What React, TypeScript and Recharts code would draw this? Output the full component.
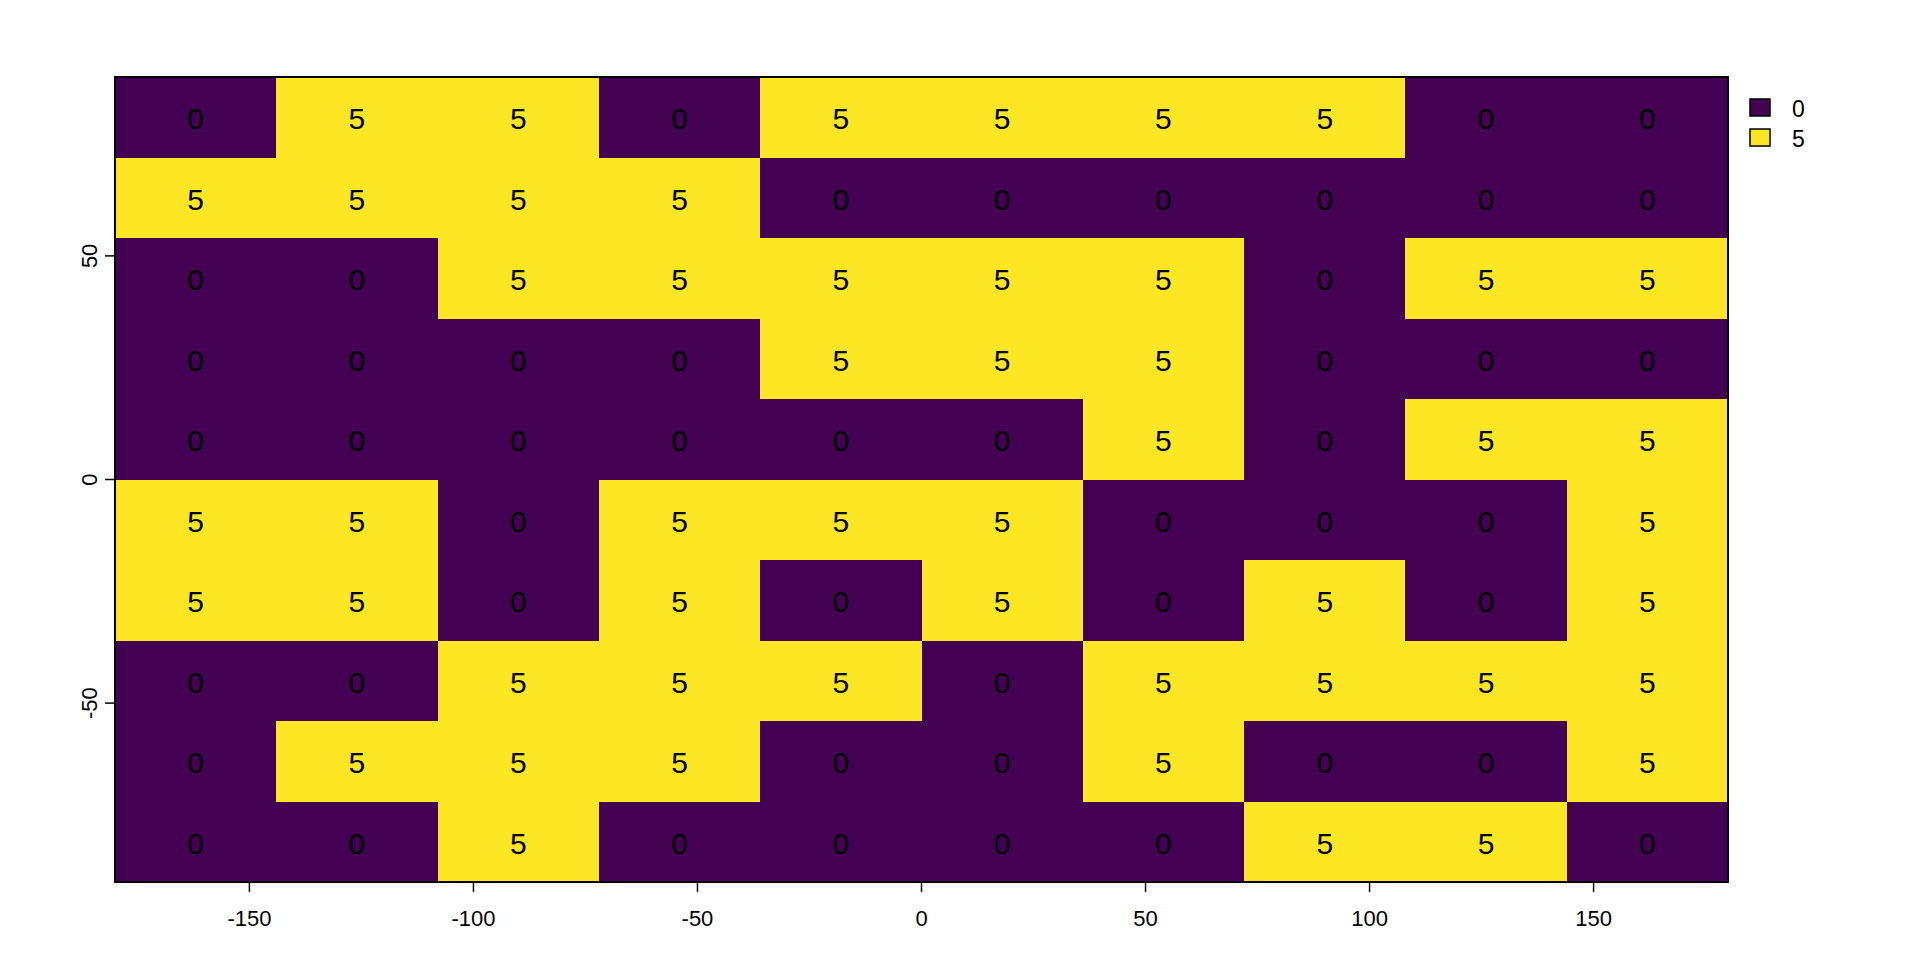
import { ReferenceArea, Scatter, ScatterChart, XAxis, YAxis } from 'recharts';

// cell edges (longitude / latitude)
const lonEdges = [-180, -144, -108, -72, -36, 0, 36, 72, 108, 144, 180];
const latEdges = [90, 72, 54, 36, 18, 0, -18, -36, -54, -72, -90];

// raster values, top row first
const gridValues = [
  [0, 5, 5, 0, 5, 5, 5, 5, 0, 0],
  [5, 5, 5, 5, 0, 0, 0, 0, 0, 0],
  [0, 0, 5, 5, 5, 5, 5, 0, 5, 5],
  [0, 0, 0, 0, 5, 5, 5, 0, 0, 0],
  [0, 0, 0, 0, 0, 0, 5, 0, 5, 5],
  [5, 5, 0, 5, 5, 5, 0, 0, 0, 5],
  [5, 5, 0, 5, 0, 5, 0, 5, 0, 5],
  [0, 0, 5, 5, 5, 0, 5, 5, 5, 5],
  [0, 5, 5, 5, 0, 0, 5, 0, 0, 5],
  [0, 0, 5, 0, 0, 0, 0, 5, 5, 0],
];

const xTicks = [-150, -100, -50, 0, 50, 100, 150];
const yTicks = [-50, 0, 50];
const legendValues = [0, 5];
const palette: Record<number, string> = { 0: '#440154', 5: '#FDE725' };

const cells = gridValues.flatMap((row, r) =>
  row.map((value, c) => ({
    x1: lonEdges[c],
    x2: lonEdges[c + 1],
    y1: latEdges[r + 1],
    y2: latEdges[r],
    x: (lonEdges[c] + lonEdges[c + 1]) / 2,
    y: (latEdges[r] + latEdges[r + 1]) / 2,
    value,
  }))
);

const FONT = 'Liberation Sans, Arial, sans-serif';

const CellLabel = (props: any) => (
  <text
    x={props.cx}
    y={props.cy}
    dy={12}
    textAnchor="middle"
    fontSize={30}
    fontFamily={FONT}
    fill="#000"
  >
    {props.payload.value}
  </text>
);

const YTick = (props: any) => (
  <text
    transform={`translate(${props.x - 6},${props.y}) rotate(-90)`}
    textAnchor="middle"
    fontSize={22}
    fontFamily={FONT}
    fill="#000"
  >
    {props.payload.value}
  </text>
);

const App = () => {
  return (
    <div style={{ position: 'absolute', left: 0, top: 0, width: 1920, height: 960, background: '#fff' }}>
      <ScatterChart width={1920} height={960} margin={{ top: 77, right: 192, left: 55, bottom: 28 }}>
        <XAxis
          type="number"
          dataKey="x"
          domain={[-180, 180]}
          ticks={xTicks}
          allowDataOverflow
          height={50}
          tickSize={10}
          tickMargin={18}
          axisLine={false}
          tickLine={{ stroke: '#000', strokeWidth: 1.5 }}
          tick={{ fontSize: 22, fontFamily: FONT, fill: '#000' }}
        />
        <YAxis
          type="number"
          dataKey="y"
          domain={[-90, 90]}
          ticks={yTicks}
          allowDataOverflow
          width={60}
          tickSize={10}
          axisLine={false}
          tickLine={{ stroke: '#000', strokeWidth: 1.5 }}
          tick={<YTick />}
        />
        {cells.map((c, i) => (
          <ReferenceArea
            key={i}
            x1={c.x1}
            x2={c.x2}
            y1={c.y1}
            y2={c.y2}
            fill={palette[c.value]}
            fillOpacity={1}
            stroke="none"
            shapeRendering="crispEdges"
            ifOverflow="visible"
          />
        ))}
        <ReferenceArea
          x1={-180}
          x2={180}
          y1={-90}
          y2={90}
          fill="none"
          fillOpacity={0}
          stroke="#000"
          strokeWidth={2}
          ifOverflow="visible"
        />
        <Scatter data={cells} shape={<CellLabel />} isAnimationActive={false} />
      </ScatterChart>
      <svg
        width={130}
        height={80}
        style={{ position: 'absolute', left: 1745, top: 92, overflow: 'visible' }}
      >
        {legendValues.map((v, i) => (
          <g key={v}>
            <rect x={5} y={7 + i * 30} width={20} height={17} fill={palette[v]} stroke="#000" strokeWidth={1.5} />
            <text x={47} y={25 + i * 30} fontSize={23} fontFamily={FONT} fill="#000">
              {v}
            </text>
          </g>
        ))}
      </svg>
    </div>
  );
};

export default App;
